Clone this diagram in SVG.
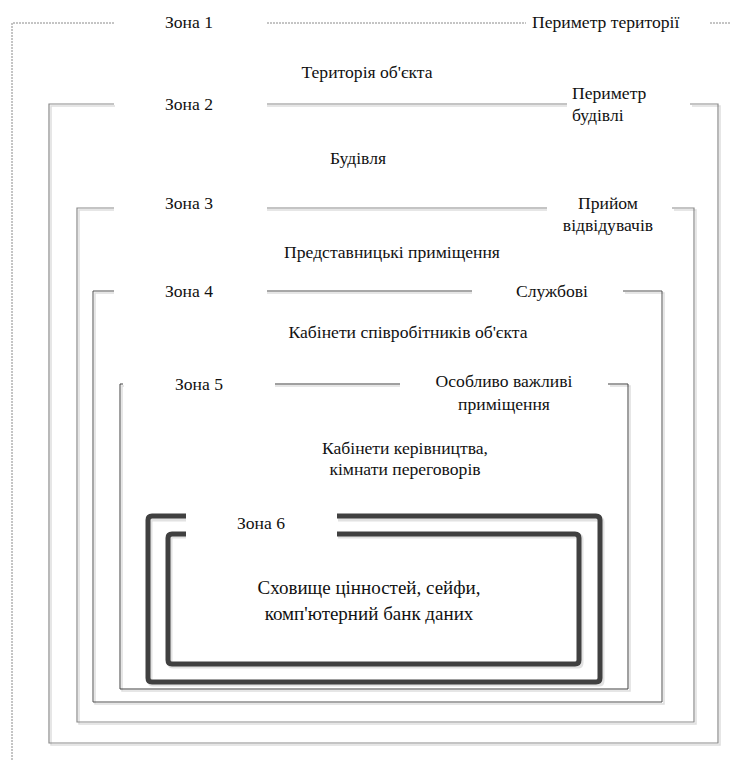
<svg xmlns="http://www.w3.org/2000/svg" width="740" height="760" viewBox="0 0 740 760">
<style>
text{font-family:"Liberation Serif","Times New Roman",serif;font-size:17.6px;fill:#111}
.c{text-anchor:middle}
.big{font-size:19px}
.sh{fill:none;stroke:#dedede;stroke-width:1.5}
.l2{fill:none;stroke:#8a8a8a;stroke-width:1.2}
.l3{fill:none;stroke:#8a8a8a;stroke-width:1.2}
.l4{fill:none;stroke:#505050;stroke-width:1}
.l5{fill:none;stroke:#404040;stroke-width:1}
.dash{fill:none;stroke:#8a8a8a;stroke-width:1;stroke-dasharray:2 1}
.thick{fill:none;stroke:#404040;stroke-width:5}
.thsh{fill:none;stroke:#e2e2e2;stroke-width:5}
</style>
<rect width="740" height="760" fill="#fff"/>

<g id="zone1">
  <path class="dash" d="M12,760 V23 H114"/>
  <path class="dash" d="M267,23 H526"/>
  <path class="dash" d="M710,23 H730"/>
  <text class="c" x="189" y="28">Зона 1</text>
  <text x="532" y="28">Периметр території</text>
  <text class="c" x="367" y="78">Територія об'єкта</text>
</g>

<g id="zone2">
  <path class="sh" d="M115,106 H51 V745 H720 V106 H692 M267,106 H567"/>
  <path class="l2" d="M114,104 H49 V743 H718 V104 H690"/>
  <path class="l2" d="M267,104 H567"/>
  <text class="c" x="189" y="110">Зона 2</text>
  <text x="572" y="99">Периметр</text>
  <text x="572" y="121">будівлі</text>
  <text class="c" x="358" y="164">Будівля</text>
</g>

<g id="zone3">
  <path class="sh" d="M114,210 H79 V724 H696 V210 H674 M267,210 H547"/>
  <path class="l3" d="M114,208 H77 V722 H694 V208 H672"/>
  <path class="l3" d="M267,208 H547"/>
  <text class="c" x="189" y="209">Зона 3</text>
  <text class="c" x="608" y="209">Прийом</text>
  <text class="c" x="608" y="231">відвідувачів</text>
  <text class="c" x="392" y="258">Представницькі приміщення</text>
</g>

<g id="zone4">
  <path class="sh" d="M114,293 H95 V704 H664 V293 H625 M267,293 H472"/>
  <path class="l4" d="M114,291 H93 V702 H662 V291 H623"/>
  <path class="l4" d="M267,291 H472"/>
  <text class="c" x="189" y="297">Зона 4</text>
  <text class="c" x="552" y="297">Службові</text>
  <text class="c" x="408" y="338">Кабінети співробітників об'єкта</text>
</g>

<g id="zone5">
  <path class="sh" d="M124,386 H122 V691 H630 V386 H610 M275,386 H400"/>
  <path class="l5" d="M123,384 H120 V689 H628 V384 H608"/>
  <path class="l5" d="M275,384 H400"/>
  <text class="c" x="199" y="390">Зона 5</text>
  <text class="c" x="504" y="387">Особливо важливі</text>
  <text class="c" x="504" y="410">приміщення</text>
  <text class="c" x="405" y="454">Кабінети керівництва,</text>
  <text class="c" x="405" y="475">кімнати переговорів</text>
</g>

<g id="zone6">
  <path class="thsh" d="M186,519 H153 Q150,519 150,522 V681 Q150,684 153,684 H599 Q602,684 602,681 V522 Q602,519 599,519 H338"/>
  <path class="thsh" d="M186,536 H173 Q170,536 170,539 V663 Q170,666 173,666 H578 Q581,666 581,663 V539 Q581,536 578,536 H338"/>
  <path class="thick" d="M186,516 H152 Q148,516 148,520 V678 Q148,682 152,682 H596 Q600,682 600,678 V520 Q600,516 596,516 H337"/>
  <path class="thick" d="M186,534 H172 Q168,534 168,538 V660 Q168,664 172,664 H575 Q579,664 579,660 V538 Q579,534 575,534 H337"/>
  <text class="c" x="261" y="529">Зона 6</text>
  <text class="c big" x="369" y="594">Сховище цінностей, сейфи,</text>
  <text class="c big" x="369" y="620">комп'ютерний банк даних</text>
</g>
</svg>
